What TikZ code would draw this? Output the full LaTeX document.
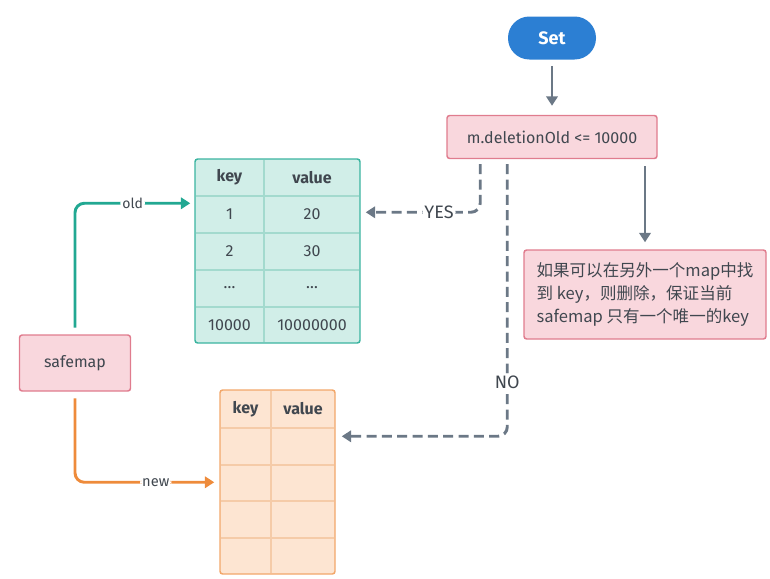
\documentclass[tikz,border=0pt]{standalone}
\usepackage{fontspec}
\setmainfont{Fira Sans}
\newfontfamily\cjk{Noto Sans CJK SC}
\usetikzlibrary{arrows.meta,calc}

\definecolor{ink}{HTML}{40474F}
\definecolor{pinkfill}{HTML}{F9D7DD}
\definecolor{pinkline}{HTML}{E07C8E}
\definecolor{tealfill}{HTML}{D1EEE8}
\definecolor{tealline}{HTML}{3BB4A0}
\definecolor{tealgrid}{HTML}{A3DACE}
\definecolor{tealarrow}{HTML}{22A892}
\definecolor{orangefill}{HTML}{FDE5D2}
\definecolor{orangeline}{HTML}{F2A76A}
\definecolor{orangegrid}{HTML}{F5CBA8}
\definecolor{orangearrow}{HTML}{EE8B3B}
\definecolor{setblue}{HTML}{2C7FD3}
\definecolor{grayline}{HTML}{6B7886}

\tikzset{
  box/.style     = {draw=pinkline, fill=pinkfill, line width=1.1pt,
                    rounded corners=2pt, text=ink},
  flow/.style    = {draw=grayline, line width=2.2pt,
                    -{Triangle[length=7pt,width=8.5pt]}},
  dashflow/.style= {flow, dash pattern=on 7.5pt off 4pt, rounded corners=7pt},
  tag/.style     = {fill=white, inner sep=1.5pt, text=ink},
  bigtag/.style  = {tag, font=\fontsize{13.5}{15}\selectfont},
  cell/.style    = {text=ink, inner sep=0pt},
}

\begin{document}
\begin{tikzpicture}[x=0.75pt, y=-0.75pt, font=\fontsize{12}{14}\selectfont]
  \useasboundingbox (0,0) rectangle (770,578);

  % flow on the right
  \node[fill=setblue, text=white, rounded corners=16pt,
        minimum width=66pt, minimum height=32.25pt,
        font=\fontsize{13.5}{15}\selectfont\bfseries] (set) at (552,38) {Set};
  \node[box, minimum width=157.5pt, minimum height=32.25pt] (cond) at (552,137)
       {m.deletionOld <= 10000};
  \node[box, minimum width=181.5pt, minimum height=66.75pt, align=left,
        font=\cjk\fontsize{12.4}{17.6}\selectfont] (note) at (645,294.5)
       {如果可以在另外一个map中找\\到 key，则删除，保证当前\\safemap 只有一个唯一的key};

  \draw[flow, shorten <=4.5pt, shorten >=6.75pt] (set) -- (cond);
  \draw[flow, shorten <=5.25pt, shorten >=5.25pt] (cond.south -| note.north) -- (note.north);

  % safemap
  \node[box, minimum width=83.25pt, minimum height=42pt] (safemap) at (75,363) {safemap};

  % old map
  \node[draw=tealline, fill=tealfill, line width=1.1pt, rounded corners=2pt,
        minimum width=123.75pt, minimum height=138pt] (old) at (277.5,251) {};
  \foreach \y in {196,233,270,307}
    \draw[tealgrid, line width=0.8pt] (196,\y) -- (359,\y);
  \draw[tealgrid, line width=0.8pt] (264,160) -- (264,342);
  \foreach \k/\v [count=\i from 0, evaluate=\i as \y using 177.5+36.8*\i]
    in {\textbf{key}/\textbf{value}, 1/20, 2/30, …/…, 10000/10000000}
  {
    \node[cell] (old-k\i) at (229.5,\y) {\k};
    \node[cell] (old-v\i) at (312,\y)   {\v};
  }

  % new map
  \node[draw=orangeline, fill=orangefill, line width=1.1pt, rounded corners=2pt,
        minimum width=86.25pt, minimum height=138pt] (new) at (277.5,482) {};
  \foreach \y in {428,465,501,538}
    \draw[orangegrid, line width=0.8pt] (221,\y) -- (334,\y);
  \draw[orangegrid, line width=0.8pt] (271,391) -- (271,573);
  \node[cell, font=\fontsize{12}{14}\selectfont\bfseries] (new-k0) at (245.5,409) {key};
  \node[cell, font=\fontsize{12}{14}\selectfont\bfseries] (new-v0) at (303,409)   {value};

  % pointers from safemap
  \coordinate (oldin) at ($(old.north west)+(-4,45)$);
  \coordinate (newin) at ($(new.north west)+(-5,93)$);
  \draw[draw=tealarrow, line width=2.2pt, rounded corners=7pt, shorten <=5pt,
        -{Triangle[length=7pt,width=8.5pt]}]
    (safemap.north) |- node[tag, pos=0.75, font=\fontsize{10.5}{12}\selectfont] {old} (oldin);
  \draw[draw=orangearrow, line width=2.2pt, rounded corners=7pt, shorten <=5pt,
        -{Triangle[length=7pt,width=8.5pt]}]
    (safemap.south) |- node[tag, pos=0.79, font=\fontsize{11}{13}\selectfont] {new} (newin);

  % branches
  \coordinate (yesin) at ($(old.north east)+(5,54)$);
  \coordinate (noin)  at ($(new.north east)+(6,47)$);
  \draw[dashflow] ($(cond.south west)+(34,5)$) |- node[bigtag, pos=0.68] {YES} (yesin);
  \draw[dashflow] ($(cond.south west)+(61,5)$) |- node[bigtag, pos=0.4] {NO} (noin);

\end{tikzpicture}
\end{document}
